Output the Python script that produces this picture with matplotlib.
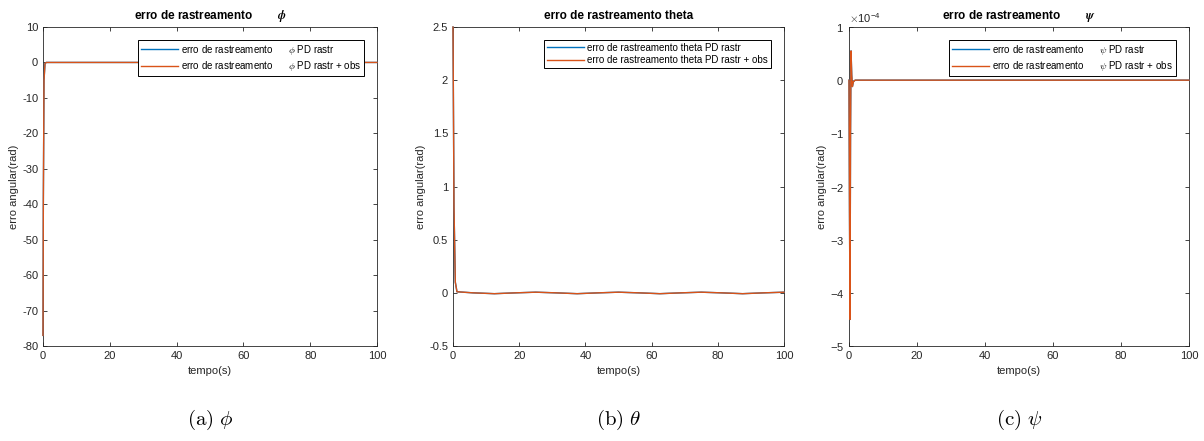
import numpy as np
import matplotlib.pyplot as plt
from matplotlib.ticker import ScalarFormatter, FormatStrFormatter

plt.rcParams['font.family'] = ['Liberation Sans', 'DejaVu Sans']
plt.rcParams['mathtext.fontset'] = 'cm'
plt.rcParams['axes.unicode_minus'] = False

# tracking error samples (time in s)
t_phi = [0, 0.1, 0.3, 0.6, 1.0, 100]
phi_pd = [-77, -40, -5, -0.3, 0, 0]
phi_obs = [-77, -40, -5, -0.3, 0, 0]

t_theta = [0, 0.3, 0.7, 1.2, 6, 12.5, 19, 25, 31, 37.5, 44, 50, 56, 62.5, 69, 75, 81, 87.5, 94, 100]
theta_pd = [2.5, 0.8, 0.1, 0.01, 0.0, -0.008, 0.0, 0.006, 0.0, -0.008, 0.0, 0.006, 0.0, -0.008, 0.0, 0.006, 0.0, -0.008, 0.0, 0.006]
theta_obs = [2.5, 0.8, 0.1, 0.01, 0.0, -0.008, 0.0, 0.006, 0.0, -0.008, 0.0, 0.006, 0.0, -0.008, 0.0, 0.006, 0.0, -0.008, 0.0, 0.006]

t_psi = [0, 0.15, 0.3, 0.45, 0.6, 0.8, 1.0, 1.3, 1.8, 100]
psi_pd = [0, -2.5e-4, -4.5e-4, -1.0e-4, 0.55e-4, 0.1e-4, -0.12e-4, -0.03e-4, 0, 0]
psi_obs = [0, -2.5e-4, -4.5e-4, -1.0e-4, 0.55e-4, 0.1e-4, -0.12e-4, -0.03e-4, 0, 0]

blue = '#0072BD'
orange = '#D95319'
axc = '#262626'

fig = plt.figure(figsize=(12.04, 4.41), dpi=100)
W, H = 1204, 441
boxes = [(43, 377), (453, 784), (849, 1189)]
top, bottom = 27, 346

panels = [
    (t_phi, phi_pd, phi_obs, (-80, 10), np.arange(-80, 11, 10),
     'erro de rastreamento        $\\boldsymbol{\\phi}$',
     ['erro de rastreamento      $\\phi$ PD rastr', 'erro de rastreamento      $\\phi$ PD rastr + obs'],
     '$\\mathrm{(a)}\\ \\phi$'),
    (t_theta, theta_pd, theta_obs, (-0.5, 2.5), np.arange(-0.5, 2.51, 0.5),
     'erro de rastreamento theta',
     ['erro de rastreamento theta PD rastr', 'erro de rastreamento theta PD rastr + obs'],
     '$\\mathrm{(b)}\\ \\theta$'),
    (t_psi, psi_pd, psi_obs, (-5e-4, 1e-4), np.arange(-5, 1.1, 1) * 1e-4,
     'erro de rastreamento        $\\boldsymbol{\\psi}$',
     ['erro de rastreamento      $\\psi$ PD rastr', 'erro de rastreamento      $\\psi$ PD rastr + obs'],
     '$\\mathrm{(c)}\\ \\psi$'),
]

for (x0, x1), (t, y1, y2, ylim, yt, title, labels, cap) in zip(boxes, panels):
    ax = fig.add_axes([x0 / W, 1 - bottom / H, (x1 - x0) / W, (bottom - top) / H])
    ax.plot(t, y1, color=blue, lw=1.0, label=labels[0], zorder=3, clip_on=False)
    ax.plot(t, y2, color=orange, lw=1.0, label=labels[1], zorder=3, clip_on=False)
    ax.set_xlim(0, 100)
    ax.set_ylim(*ylim)
    ax.set_xticks(np.arange(0, 101, 20))
    ax.set_yticks(yt)
    ax.tick_params(direction='in', top=True, right=True, labelsize=8, colors=axc, length=3, width=0.6)
    for s in ax.spines.values():
        s.set_color(axc)
        s.set_linewidth(0.6)
    if ylim[1] < 1e-3:
        fmt = ScalarFormatter(useMathText=True)
        fmt.set_powerlimits((-3, 3))
        ax.yaxis.set_major_formatter(fmt)
        ax.yaxis.get_offset_text().set_fontsize(8)
    else:
        ax.yaxis.set_major_formatter(FormatStrFormatter('%g'))
    ax.set_title(title, fontsize=8.5, fontweight='bold', pad=6)
    ax.set_xlabel('tempo(s)', fontsize=8, color=axc)
    ax.set_ylabel('erro angular(rad)', fontsize=8, color=axc, labelpad=2)
    leg = ax.legend(loc='upper right', fontsize=7, fancybox=False, edgecolor='black',
                    framealpha=1, borderpad=0.3, handlelength=3.8, handletextpad=0.3,
                    labelspacing=0.25, bbox_to_anchor=(0.975, 0.975))
    leg.get_frame().set_linewidth(0.7)
    fig.text((x0 + x1) / 2 / W, 1 - 420 / H, cap, ha='center', va='center', fontsize=15)

fig.savefig('out.png', dpi=100)
